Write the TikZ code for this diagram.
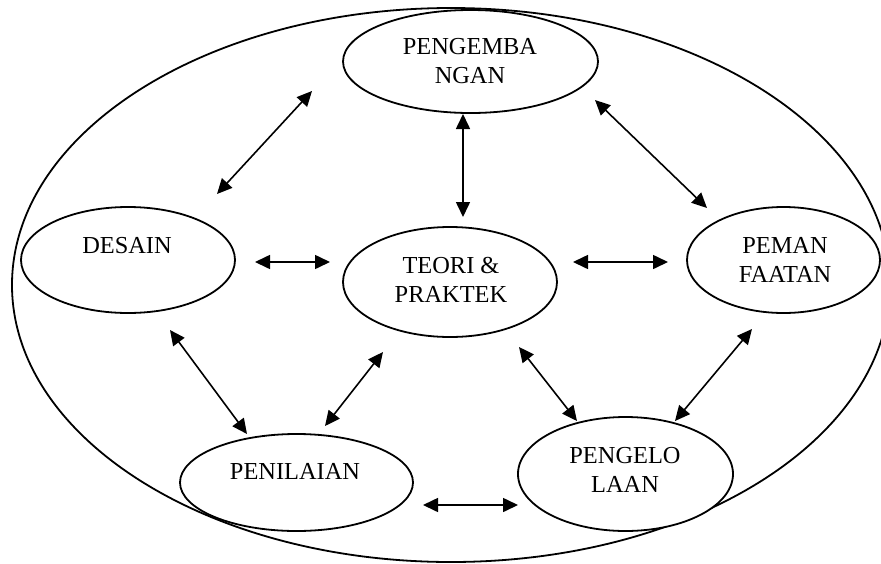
\documentclass[tikz,border=0pt]{standalone}
\usepackage{fontspec}
\setmainfont{Liberation Serif}
\usetikzlibrary{shapes.geometric,arrows.meta}
\tikzset{
  area/.style={draw, line width=1.8pt, ellipse, inner sep=0pt, outer sep=0pt},
  lbl/.style={anchor=base, align=center, inner sep=0pt,
    font=\fontsize{24.4}{29}\selectfont},
  link/.style={line width=1.6pt, {Triangle[length=15pt,width=14pt]}-{Triangle[length=15pt,width=14pt]}}
}
\begin{document}
\begin{tikzpicture}[x=1pt,y=-1pt]
  \clip (0,0) rectangle (881,563);
  % outer boundary
  \node[area, minimum width=878pt, minimum height=554pt] (world) at (451,285) {};

  % the six fields
  \node[area, fill=white, minimum width=255pt, minimum height=103pt] (dev) at (470.5,61.5) {};
  \node[area, fill=white, minimum width=214pt, minimum height=106pt] (des) at (128,260) {};
  \node[area, fill=white, minimum width=214pt, minimum height=110pt] (teo) at (450,282) {};
  \node[area, fill=white, minimum width=193pt, minimum height=106pt] (use) at (783.5,260) {};
  \node[area, fill=white, minimum width=233pt, minimum height=97pt]  (eva) at (296.5,482.5) {};
  \node[area, fill=white, minimum width=215pt, minimum height=114pt] (man) at (625.5,474) {};

  % labels (multi-line labels are placed by the baseline of their last line)
  \node[lbl] (devt) at (470,83)  {PENGEMBA\\NGAN};
  \node[lbl] (dest) at (127,253) {DESAIN};
  \node[lbl] (teot) at (451,302) {TEORI \&\\PRAKTEK};
  \node[lbl] (uset) at (785,282) {PEMAN\\FAATAN};
  \node[lbl] (evat) at (295,479) {PENILAIAN};
  \node[lbl] (mant) at (625,492) {PENGELO\\LAAN};

  % arrow end points
  \coordinate (desU) at (217,194);  \coordinate (devL) at (312,91);
  \coordinate (devB) at (463,114);  \coordinate (teoT) at (463,217);
  \coordinate (devR) at (595,100);  \coordinate (useU) at (707,208);
  \coordinate (desR) at (255,262);  \coordinate (teoL) at (330,262);
  \coordinate (teoR) at (573,262);  \coordinate (useL) at (668,262);
  \coordinate (desB) at (170,330);  \coordinate (evaL) at (247,434);
  \coordinate (teoBL) at (383,352); \coordinate (evaR) at (325,426);
  \coordinate (evaE) at (423,505);  \coordinate (manW) at (518,505);
  \coordinate (teoBR) at (519,347); \coordinate (manL) at (577,421);
  \coordinate (useB) at (752,329);  \coordinate (manR) at (675,421);

  \draw[link] (desU) -- (devL);
  \draw[link] (devB) -- (teoT);
  \draw[link] (devR) -- (useU);
  \draw[link] (desR) -- (teoL);
  \draw[link] (teoR) -- (useL);
  \draw[link] (desB) -- (evaL);
  \draw[link] (teoBL) -- (evaR);
  \draw[link] (evaE) -- (manW);
  \draw[link] (teoBR) -- (manL);
  \draw[link] (useB) -- (manR);
\end{tikzpicture}
\end{document}
